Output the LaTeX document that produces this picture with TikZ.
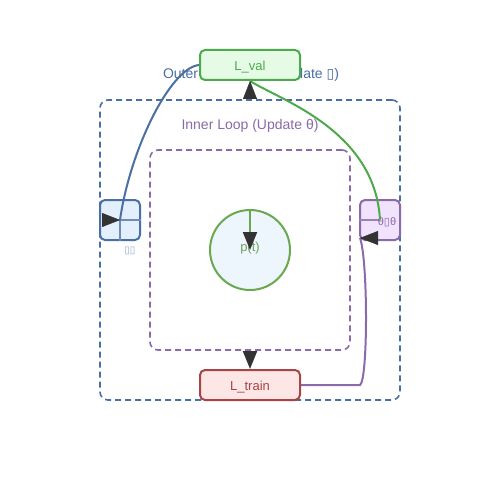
\documentclass[tikz,border=0pt]{standalone}
\usepackage{fontspec}
\setmainfont{Liberation Sans}
\newfontfamily\tofufont{DejaVu Sans}
\usetikzlibrary{arrows.meta}
\definecolor{outerblue}{HTML}{4A6FA5}
\definecolor{innerpurple}{HTML}{8A6AA8}
\definecolor{valgreen}{HTML}{4CAA4C}
\definecolor{valfill}{HTML}{E6FBE6}
\definecolor{trainred}{HTML}{A84444}
\definecolor{trainfill}{HTML}{FDE6E6}
\definecolor{ptgreen}{HTML}{6AA84F}
\definecolor{ptfill}{HTML}{EEF6FD}
\definecolor{gradfill}{HTML}{E3EFFD}
\definecolor{updfill}{HTML}{F1E3FD}
\definecolor{tipgray}{HTML}{333333}
\begin{document}
\begin{tikzpicture}[x=1pt, y={(0pt,-1pt)},
    loopbox/.style={draw, dashed, line width=1.6pt, dash pattern=on 6pt off 4pt, rounded corners=8pt, minimum size=#1, inner sep=0pt},
    lossbox/.style={draw, line width=2pt, rounded corners=5pt, minimum width=100pt, minimum height=30pt, inner sep=0pt, text height=11pt, text depth=0pt, font=\fontsize{13}{15}\selectfont},
    smallbox/.style={draw, line width=2pt, rounded corners=5pt, minimum size=40pt, inner sep=0pt},
    tip/.style={draw=tipgray, -{Triangle[length=18pt, width=14pt, color=tipgray]}},
    conn/.style={line width=2pt}]
    % Canvas
    \useasboundingbox[fill=white] (0,0) rectangle (500,500);

    % Loops
    \node[loopbox=300pt, draw=outerblue] (outer) at (250,250) {};
    \node[loopbox=200pt, draw=innerpurple] (inner) at (250,250) {};
    \node[text=outerblue, font=\fontsize{14}{16}\selectfont] (outerlabel) at (251,75) {Outer Loop (\hspace{36pt}Update {\tofufont ▯})};
    \node[text=innerpurple, font=\fontsize{14}{16}\selectfont] (innerlabel) at (250,126) {Inner Loop (Update θ)};

    % Boxes
    \node[lossbox, draw=valgreen, fill=valfill, text=valgreen] (lval) at (250,65) {L\_val};
    \node[lossbox, draw=trainred, fill=trainfill, text=trainred] (ltrain) at (250,385) {L\_train};
    \node[circle, draw=ptgreen, fill=ptfill, line width=2pt, minimum size=80pt, inner sep=0pt, text height=2pt, text depth=0pt, text=ptgreen!80!gray, font=\fontsize{13}{15}\selectfont] (pt) at (250,250) {p(t)};
    \node[smallbox, draw=outerblue, fill=gradfill] (grad) at (120,220) {};
    \node[smallbox, draw=innerpurple, fill=updfill] (upd) at (380,220) {};
    \draw[outerblue!80!white, line width=1.6pt] (grad.center) -- (grad.east) (grad.center) -- (grad.south);
    \draw[innerpurple!85!white, line width=1.6pt] (upd.west) -- (upd.center);
    \node[text=innerpurple, font=\fontsize{11}{13}\selectfont] (updlabel) at (387,222) {θ{\tofufont ▯}θ};
    \node[text=outerblue!60!white, font=\fontsize{10}{12}\selectfont] (gradlabel) at (130,251) {\tofufont ▯▯};

    % Connectors
    \draw[conn, outerblue] (lval.west) .. controls (170,68) and (130,150) .. (grad.center);
    \draw[conn, valgreen] (upd.center) .. controls (375,130) and (280,100) .. (lval.south);
    \draw[conn, innerpurple] (ltrain.east) -- (360,385) .. controls (368,380) and (368,260) .. (360,238);
    \draw[conn, ptgreen, -{Triangle[length=18pt, width=14pt, color=tipgray]}] (pt.north) -- (pt.center);
    \draw[conn, tip] (inner.south) -- (ltrain.north);

    % Arrow heads
    \draw[tip] ([xshift=-1pt]grad.center) -- (grad.center);
    \draw[tip] ([yshift=-1pt]lval.south) -- (lval.south);
    \draw[tip] (361,238) -- (360,238);
\end{tikzpicture}
\end{document}
